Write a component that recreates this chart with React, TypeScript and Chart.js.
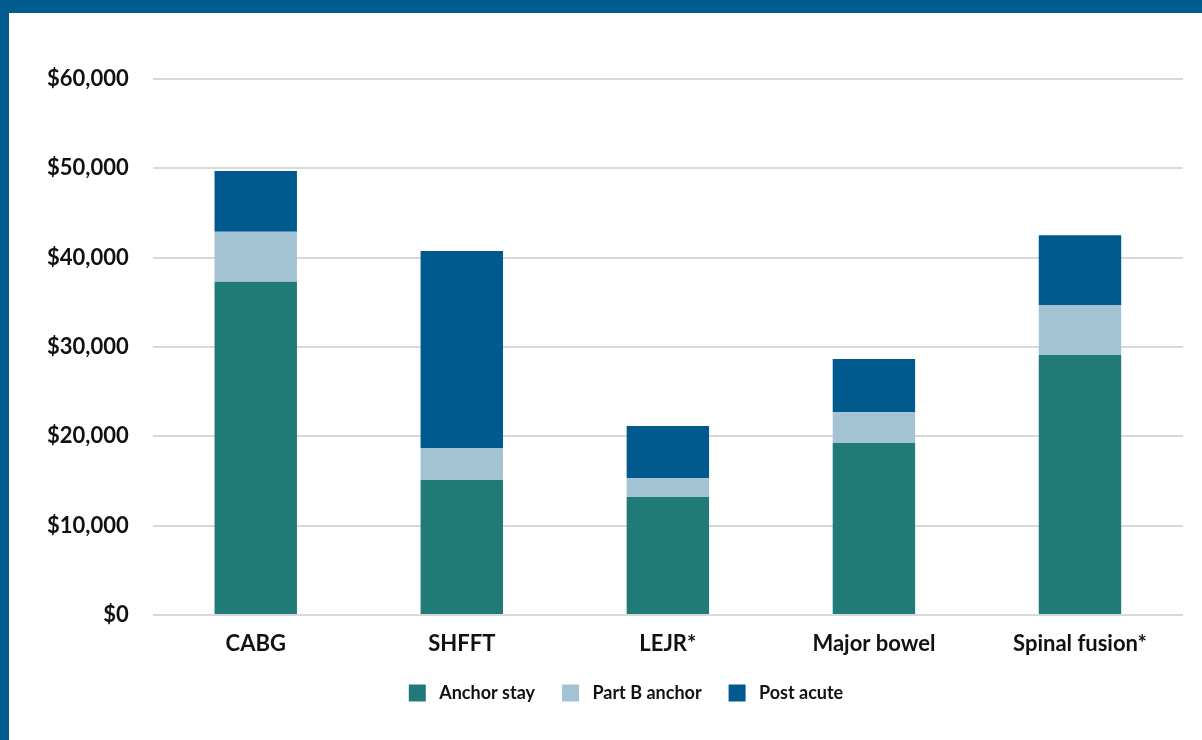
import React, { useEffect, useRef } from "react";
import { Chart, registerables } from "chart.js";

Chart.register(...registerables);

const categories = ["CABG", "SHFFT", "LEJR*", "Major bowel", "Spinal fusion*"];
const anchorStay = [37300, 15100, 13200, 19250, 29100];
const partBAnchor = [5600, 3600, 2100, 3450, 5600];
const postAcute = [6800, 22050, 5850, 5950, 7800];
const yTicks = [0, 10000, 20000, 30000, 40000, 50000, 60000];

const shiftLegend = {
  id: "shiftLegend",
  afterLayout(chart: any) {
    if (chart.legend) {
      chart.legend.left += 23;
      chart.legend.right += 23;
    }
  },
};

export default function App() {
  const ref = useRef<HTMLCanvasElement | null>(null);
  useEffect(() => {
    document.body.style.margin = "0";
    const ctx = ref.current!;
    const font = { family: "Lato, 'Open Sans', sans-serif", weight: "bold" as const };
    const chart = new Chart(ctx, {
      type: "bar",
      data: {
        labels: categories,
        datasets: [
          { label: "Anchor stay", data: anchorStay, backgroundColor: "#207B78" },
          { label: "Part B anchor", data: partBAnchor, backgroundColor: "#A3C3D4" },
          { label: "Post acute", data: postAcute, backgroundColor: "#005A8E" },
        ],
      },
      plugins: [shiftLegend],
      options: {
        animation: false,
        responsive: false,
        maintainAspectRatio: false,
        layout: { padding: { left: 14, right: 19, top: 66, bottom: 28 } },
        datasets: { bar: { categoryPercentage: 1, barPercentage: 0.4 } },
        scales: {
          x: {
            stacked: true,
            grid: { display: false, drawTicks: false },
            border: { display: false },
            ticks: { color: "#111", font: { ...font, size: 22 }, padding: 16 },
            afterFit: (axis: any) => {
              axis.height = 42;
            },
          },
          y: {
            stacked: true,
            min: 0,
            max: 60000,
            afterBuildTicks: (axis: any) => {
              axis.ticks = yTicks.map((v) => ({ value: v }));
            },
            grid: { color: "#d9d9d9", lineWidth: 2, drawTicks: false },
            border: { display: false },
            ticks: {
              color: "#111",
              font: { ...font, size: 22 },
              padding: 24,
              callback: (v: any) => "$" + Number(v).toLocaleString("en-US"),
            },
          },
        },
        plugins: {
          tooltip: { enabled: false },
          legend: {
            position: "bottom",
            labels: {
              color: "#111",
              font: { ...font, size: 18 },
              boxWidth: 17,
              boxHeight: 17,
              padding: 27,
              generateLabels: (c: any) =>
                Chart.defaults.plugins.legend.labels
                  .generateLabels(c)
                  .map((l: any) => ({ ...l, text: " " + l.text })),
            },
          },
        },
      },
    });
    return () => chart.destroy();
  }, []);
  return (
    <div style={{ position: "fixed", left: 0, top: 0, width: 1202, height: 740, background: "#005B8F" }}>
      <div style={{ position: "absolute", left: 9, top: 13, width: 1193, height: 727, background: "#fff" }}>
        <canvas ref={ref} width={1193} height={727} style={{ display: "block" }} />
      </div>
    </div>
  );
}
